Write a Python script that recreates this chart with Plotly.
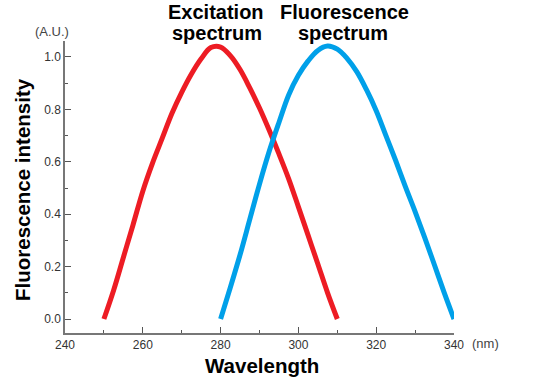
import plotly.graph_objects as go

# Excitation spectrum (red)
ex_wl = [250, 252.5, 255, 257.5, 260, 262.5, 265, 267.5, 270, 272.5, 275, 277.5,
         280, 282.5, 285, 287.5, 290, 292.5, 295, 297.5, 300, 302.5, 305, 307.5, 310]
ex_int = [0.0, 0.11, 0.235, 0.36, 0.488, 0.595, 0.69, 0.785, 0.865, 0.935, 0.993, 1.036,
          1.038, 1.005, 0.952, 0.882, 0.805, 0.72, 0.63, 0.535, 0.428, 0.319, 0.21, 0.10, 0.0]

# Fluorescence spectrum (blue)
fl_wl = [280, 282.5, 285, 287.5, 290, 292.5, 295, 297.5, 300, 302.5, 305, 307.5,
         310, 312.5, 315, 317.5, 320, 322.5, 325, 327.5, 330, 332.5, 335, 337.5, 340]
fl_int = [0.0, 0.12, 0.245, 0.38, 0.515, 0.64, 0.75, 0.855, 0.93, 0.985, 1.025, 1.042,
          1.03, 0.995, 0.944, 0.875, 0.795, 0.70, 0.605, 0.505, 0.41, 0.31, 0.205, 0.10, 0.0]

x_ticks = [240, 260, 280, 300, 320, 340]
y_ticks = [0.0, 0.2, 0.4, 0.6, 0.8, 1.0]

W, H = 549, 387
L, R, T, B = 65, 454, 41, 333

FONT = "Liberation Sans, Arial, sans-serif"


def px(x):
    return (x - L) / (R - L)


def py(y):
    return (B - y) / (B - T)


fig = go.Figure()
fig.add_trace(go.Scatter(x=ex_wl, y=ex_int, mode="lines",
                         line=dict(color="#ED1C24", width=5, shape="spline", smoothing=1.0),
                         showlegend=False))
fig.add_trace(go.Scatter(x=fl_wl, y=fl_int, mode="lines",
                         line=dict(color="#00A0E9", width=5, shape="spline", smoothing=1.0),
                         showlegend=False))

tick_font = dict(family=FONT, size=12, color="#333")
axis_common = dict(showline=True, linecolor="#777", linewidth=1.5, ticks="inside",
                   tickcolor="#555", tickwidth=1, ticklen=6, showgrid=False,
                   zeroline=False, tickfont=tick_font, automargin=False)

fig.update_xaxes(range=[240, 340], tickvals=x_ticks, ticktext=[str(v) for v in x_ticks],
                 minor=dict(ticks="inside", dtick=10, tick0=240, ticklen=3, tickcolor="#555"),
                 **axis_common)
fig.update_yaxes(range=[-0.0534, 1.061], tickvals=y_ticks,
                 ticktext=["%.1f" % v for v in y_ticks],
                 minor=dict(ticks="inside", dtick=0.1, tick0=0, ticklen=3, tickcolor="#555"),
                 **axis_common)

ann = []


def add(text, x, y, size, color="#000", weight=True, angle=0):
    f = dict(family=FONT, size=size, color=color)
    t = "<b>%s</b>" % text if weight else text
    ann.append(dict(text=t, x=px(x), y=py(y), xref="paper", yref="paper",
                    showarrow=False, xanchor="center", yanchor="middle",
                    textangle=angle, font=f))


add("Excitation", 216, 12, 20)
add("spectrum", 217, 33, 20)
add("Fluorescence", 344, 12, 20)
add("spectrum", 343, 33, 20)
add("(A.U.)", 52, 32, 13, color="#444", weight=False)
add("(nm)", 486, 343, 13, color="#444", weight=False)
add("Wavelength", 262, 366, 20.5)
add("Fluorescence intensity", 23, 190, 20.5, angle=-90)

fig.update_layout(width=W, height=H, margin=dict(l=L, r=W - R, t=T, b=H - B),
                  plot_bgcolor="white", paper_bgcolor="white", annotations=ann)

fig.write_html("out.html", config={"displayModeBar": False},
               post_script="document.body.style.margin='0';")
